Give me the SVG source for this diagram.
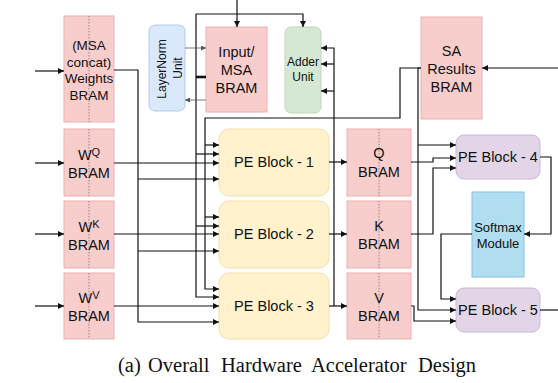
<svg xmlns="http://www.w3.org/2000/svg" width="558" height="383" viewBox="0 0 558 383">
<style>
text{font-family:"Liberation Sans",Arial,sans-serif;fill:#111;}
.bram{fill:#f8cecc;stroke:#eab0ae;stroke-width:1;}
.pe{fill:#fff2cc;stroke:#f3e0a8;stroke-width:1;}
.pp{fill:#e1d5e7;stroke:#cdb8db;stroke-width:1;}
.dot{stroke:#777;stroke-width:0.8;stroke-dasharray:1.5,1.5;fill:none;}
.t14{font-size:14.5px;}
.w{fill:none;stroke:#111;stroke-width:1.2;}
.g{fill:none;stroke:#555;stroke-width:0.8;}
.cap{font-family:"Liberation Serif","Times New Roman",serif;font-size:20.5px;}
</style>
<defs>
<marker id="a" viewBox="0 0 6 6" refX="6" refY="3" markerWidth="6" markerHeight="6" markerUnits="userSpaceOnUse" orient="auto"><path d="M0,0 L6,3 L0,6 z" fill="#111"/></marker>
<marker id="ag" viewBox="0 0 6 6" refX="6" refY="3" markerWidth="5" markerHeight="5" markerUnits="userSpaceOnUse" orient="auto"><path d="M0,0 L6,3 L0,6 z" fill="#555"/></marker>
</defs>

<g id="msa-weights-bram">
<rect class="bram" x="64" y="16" width="50" height="106"/>
<line class="dot" x1="89" y1="16" x2="89" y2="122"/>
<text x="89" y="50" text-anchor="middle" font-size="13.5">(MSA</text>
<text x="89" y="66.5" text-anchor="middle" font-size="13.5">concat)</text>
<text x="89" y="83" text-anchor="middle" font-size="13.5">Weights</text>
<text x="89" y="99.5" text-anchor="middle" font-size="13.5">BRAM</text>
</g>
<g id="wq-bram">
<rect class="bram" x="64" y="129" width="50" height="67"/>
<line class="dot" x1="89" y1="129" x2="89" y2="196"/>
<text class="t14" x="89" y="160" text-anchor="middle">W<tspan dy="-4" font-size="11">Q</tspan></text>
<text class="t14" x="89" y="178" text-anchor="middle">BRAM</text>
</g>
<g id="wk-bram">
<rect class="bram" x="64" y="201" width="50" height="67"/>
<line class="dot" x1="89" y1="201" x2="89" y2="268"/>
<text class="t14" x="89" y="232" text-anchor="middle">W<tspan dy="-4" font-size="11">K</tspan></text>
<text class="t14" x="89" y="250" text-anchor="middle">BRAM</text>
</g>
<g id="wv-bram">
<rect class="bram" x="64" y="273" width="50" height="66"/>
<line class="dot" x1="89" y1="273" x2="89" y2="339"/>
<text class="t14" x="89" y="303" text-anchor="middle">W<tspan dy="-4" font-size="11">V</tspan></text>
<text class="t14" x="89" y="321" text-anchor="middle">BRAM</text>
</g>
<g id="layernorm">
<rect x="149" y="25" width="36" height="86" rx="6" fill="#dae8fc" stroke="#b4cbec" stroke-width="1"/>
<text transform="translate(166,69) rotate(-90)" text-anchor="middle" font-size="12">LayerNorm</text>
<text transform="translate(181.5,68) rotate(-90)" text-anchor="middle" font-size="12">Unit</text>
</g>
<g id="input-msa-bram">
<rect class="bram" x="206" y="27" width="61" height="85"/>
<text class="t14" x="236.5" y="57" text-anchor="middle">Input/</text>
<text class="t14" x="236.5" y="75" text-anchor="middle">MSA</text>
<text class="t14" x="236.5" y="93" text-anchor="middle">BRAM</text>
</g>
<g id="adder">
<rect x="285" y="27" width="36" height="86" rx="6" fill="#d5e8d4" stroke="#bcdbb0" stroke-width="1"/>
<text x="303" y="66" text-anchor="middle" font-size="12">Adder</text>
<text x="303" y="81" text-anchor="middle" font-size="12">Unit</text>
</g>
<g id="sa-results-bram">
<rect class="bram" x="421" y="17" width="61" height="102"/>
<text class="t14" x="451.5" y="56" text-anchor="middle">SA</text>
<text class="t14" x="451.5" y="74" text-anchor="middle">Results</text>
<text class="t14" x="451.5" y="92" text-anchor="middle">BRAM</text>
</g>
<g id="pe1">
<rect class="pe" x="219" y="129" width="110" height="67" rx="10"/>
<text class="t14" x="274" y="167" text-anchor="middle">PE Block - 1</text>
</g>
<g id="pe2">
<rect class="pe" x="219" y="201" width="110" height="67" rx="10"/>
<text class="t14" x="274" y="239" text-anchor="middle">PE Block - 2</text>
</g>
<g id="pe3">
<rect class="pe" x="219" y="273" width="110" height="66" rx="10"/>
<text class="t14" x="274" y="311" text-anchor="middle">PE Block - 3</text>
</g>
<g id="q-bram">
<rect class="bram" x="347" y="129" width="64" height="67"/>
<line class="dot" x1="379" y1="129" x2="379" y2="196"/>
<text class="t14" x="379" y="158" text-anchor="middle">Q</text>
<text class="t14" x="379" y="177" text-anchor="middle">BRAM</text>
</g>
<g id="k-bram">
<rect class="bram" x="347" y="201" width="64" height="67"/>
<line class="dot" x1="379" y1="201" x2="379" y2="268"/>
<text class="t14" x="379" y="231" text-anchor="middle">K</text>
<text class="t14" x="379" y="249" text-anchor="middle">BRAM</text>
</g>
<g id="v-bram">
<rect class="bram" x="347" y="273" width="64" height="66"/>
<line class="dot" x1="379" y1="273" x2="379" y2="339"/>
<text class="t14" x="379" y="303" text-anchor="middle">V</text>
<text class="t14" x="379" y="321" text-anchor="middle">BRAM</text>
</g>
<g id="pe4">
<rect class="pp" x="456" y="135" width="84" height="44" rx="8"/>
<text class="t14" x="498" y="162" text-anchor="middle">PE Block - 4</text>
</g>
<g id="softmax">
<rect x="472" y="192" width="52" height="85" fill="#b1ddf0" stroke="#86c3df" stroke-width="1"/>
<text x="498" y="232" text-anchor="middle" font-size="13">Softmax</text>
<text x="498" y="248" text-anchor="middle" font-size="13">Module</text>
</g>
<g id="pe5">
<rect class="pp" x="456" y="288" width="84" height="44" rx="8"/>
<text class="t14" x="498" y="315" text-anchor="middle">PE Block - 5</text>
</g>

<g id="connectors">
<path class="w" d="M35,71 H64" marker-end="url(#a)"/>
<path class="w" d="M35,163 H64" marker-end="url(#a)"/>
<path class="w" d="M35,234 H64" marker-end="url(#a)"/>
<path class="w" d="M35,306 H64" marker-end="url(#a)"/>
<path class="w" d="M114,70 H138 V322 H219" marker-end="url(#a)"/>
<path class="w" d="M138,179 H219" marker-end="url(#a)"/>
<path class="w" d="M138,251 H219" marker-end="url(#a)"/>
<path class="w" d="M114,163 H219" marker-end="url(#a)"/>
<path class="w" d="M114,234 H219" marker-end="url(#a)"/>
<path class="w" d="M114,306 H219" marker-end="url(#a)"/>
<path class="w" d="M196,14 H303 V27" marker-end="url(#a)"/>
<path class="w" d="M196,14 V297 H219" marker-end="url(#a)"/>
<path class="w" d="M196,154 H219" marker-end="url(#a)"/>
<path class="w" d="M196,226 H219" marker-end="url(#a)"/>
<path fill="none" stroke="#111" stroke-width="2.6" d="M196,77 H206"/>
<path class="w" d="M421,68 H400 V118 H205 V289 H219" marker-end="url(#a)"/>
<path class="w" d="M205,145 H219" marker-end="url(#a)"/>
<path class="w" d="M205,217 H219" marker-end="url(#a)"/>
<path class="w" d="M237,0 V27" marker-end="url(#a)"/>
<path class="g" d="M185,48 H206" marker-end="url(#ag)"/>
<path class="g" d="M206,100 H185" marker-end="url(#ag)"/>
<path class="w" d="M329,162 H347" marker-end="url(#a)"/>
<path class="w" d="M329,234 H347" marker-end="url(#a)"/>
<path class="w" d="M329,306 H347" marker-end="url(#a)"/>
<path class="w" d="M334,306 V48 H321" marker-end="url(#a)"/>
<path class="w" d="M334,64 H321" marker-end="url(#a)"/>
<path class="w" d="M334,91 H321" marker-end="url(#a)"/>
<path class="w" d="M558,68 H482" marker-end="url(#a)"/>
<path class="w" d="M421,68 H418 V310 H456" marker-end="url(#a)"/>
<path class="w" d="M418,145 H456" marker-end="url(#a)"/>
<path class="w" d="M411,162 H433 V158 H456" marker-end="url(#a)"/>
<path class="w" d="M411,234 H433 V168 H456" marker-end="url(#a)"/>
<path class="w" d="M540,157 H551 V234 H524" marker-end="url(#a)"/>
<path class="w" d="M472,234 H441 V299 H456" marker-end="url(#a)"/>
<path class="w" d="M411,306 H414 V321 H456" marker-end="url(#a)"/>
<path class="w" d="M540,310 H558"/>
</g>

<text class="cap" y="372"><tspan x="118">(a)</tspan><tspan x="148">Overall</tspan><tspan x="221">Hardware</tspan><tspan x="311">Accelerator</tspan><tspan x="418">Design</tspan></text>
</svg>
